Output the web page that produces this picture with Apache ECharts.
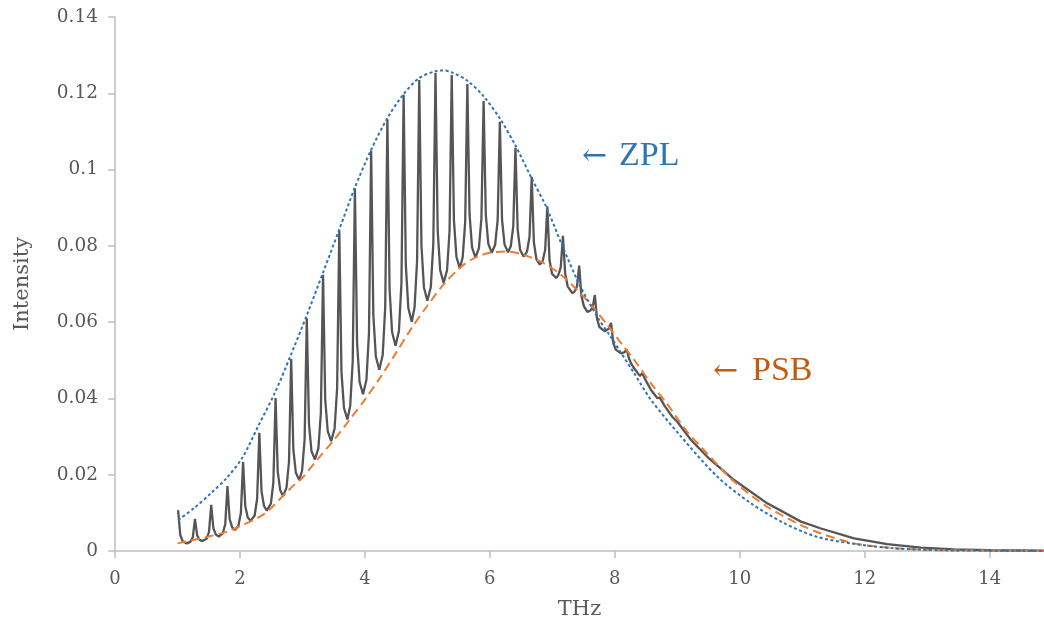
<!DOCTYPE html>
<html>
<head>
<meta charset="utf-8">
<script src="https://cdn.jsdelivr.net/npm/echarts@6/dist/echarts.min.js"></script>
<style>
html,body{margin:0;padding:0;background:#fff;}
#chart{width:1044px;height:628px;}
</style>
</head>
<body>
<div id="chart"></div>
<script>
// x ticks (THz) and y ticks (Intensity)
const xTicks = [0, 2, 4, 6, 8, 10, 12, 14];
const yTicks = [0, 0.02, 0.04, 0.06, 0.08, 0.1, 0.12, 0.14];

// Total spectrum (grey comb)
const combX = [1.01,1.045,1.085,1.15,1.205,1.245,1.28,1.315,1.355,1.40,1.465,1.505,1.54,1.575,1.615,1.66,1.725,1.765,1.80,1.835,1.875,1.92,1.975,2.015,2.05,2.085,2.125,2.17,2.235,2.275,2.31,2.345,2.385,2.43,2.495,2.535,2.57,2.605,2.645,2.69,2.745,2.785,2.82,2.855,2.895,2.95,2.995,3.035,3.07,3.105,3.145,3.20,3.255,3.295,3.33,3.365,3.405,3.46,3.515,3.555,3.59,3.625,3.665,3.72,3.765,3.805,3.84,3.875,3.915,3.97,4.025,4.065,4.10,4.135,4.175,4.23,4.285,4.325,4.36,4.395,4.435,4.49,4.545,4.585,4.62,4.655,4.695,4.75,4.795,4.835,4.87,4.905,4.945,5.00,5.055,5.095,5.13,5.165,5.205,5.26,5.315,5.355,5.39,5.425,5.465,5.52,5.565,5.605,5.64,5.675,5.715,5.77,5.825,5.865,5.90,5.935,5.975,6.03,6.085,6.125,6.16,6.195,6.235,6.29,6.335,6.375,6.41,6.445,6.485,6.54,6.595,6.635,6.67,6.705,6.745,6.80,6.845,6.885,6.92,6.955,6.995,7.06,7.095,7.135,7.17,7.205,7.245,7.32,7.355,7.395,7.43,7.465,7.505,7.56,7.605,7.645,7.68,7.715,7.755,7.84,7.905,7.94,7.975,8.015,8.10,8.155,8.19,8.225,8.26,8.31,8.40,8.44,8.48,8.58,8.68,8.72,8.80,8.92,9.00,9.22,9.48,9.91,10.44,10.98,11.30,11.83,12.36,12.90,13.43,14.00,14.87];
const combY = [0.0107,0.0042,0.0025,0.0020,0.0024,0.0036,0.0084,0.0041,0.0029,0.0026,0.0032,0.0050,0.0121,0.0059,0.0043,0.0038,0.0046,0.0071,0.0170,0.0084,0.0062,0.0055,0.0066,0.0100,0.0233,0.0118,0.0088,0.0079,0.0093,0.0137,0.0310,0.0157,0.0118,0.0106,0.0124,0.0180,0.0401,0.0208,0.0159,0.0144,0.0166,0.0234,0.0503,0.0265,0.0205,0.0186,0.0211,0.0292,0.0610,0.0333,0.0262,0.0240,0.0269,0.0361,0.0724,0.0397,0.0314,0.0288,0.0321,0.0426,0.0840,0.0469,0.0375,0.0345,0.0381,0.0497,0.0951,0.0546,0.0443,0.0411,0.0449,0.0571,0.1050,0.0619,0.0510,0.0475,0.0514,0.0639,0.1132,0.0687,0.0574,0.0538,0.0577,0.0703,0.1196,0.0750,0.0637,0.0601,0.0639,0.0760,0.1235,0.0801,0.0691,0.0656,0.0692,0.0806,0.1254,0.0841,0.0736,0.0703,0.0736,0.0839,0.1248,0.0868,0.0771,0.0741,0.0770,0.0862,0.1224,0.0883,0.0796,0.0769,0.0794,0.0872,0.1180,0.0882,0.0806,0.0782,0.0803,0.0868,0.1125,0.0869,0.0804,0.0783,0.0799,0.0852,0.1057,0.0843,0.0789,0.0772,0.0785,0.0824,0.0981,0.0809,0.0765,0.0751,0.0760,0.0789,0.0904,0.0763,0.0727,0.0716,0.0723,0.0744,0.0826,0.0729,0.0694,0.0676,0.0680,0.0694,0.0748,0.0669,0.0642,0.0627,0.0630,0.0638,0.0671,0.0609,0.0587,0.0576,0.0583,0.0598,0.0546,0.0528,0.0518,0.0521,0.0529,0.0506,0.0492,0.0479,0.0459,0.0466,0.0452,0.0422,0.0401,0.0402,0.0380,0.0352,0.0339,0.0291,0.0247,0.0186,0.0125,0.0077,0.0059,0.0033,0.0018,0.0009,0.0004,0.0002,0.0001];

// ZPL envelope (blue dotted)
const zplX = [1.01,1.27,1.54,1.79,2.04,2.30,2.56,2.81,3.07,3.33,3.59,3.84,4.10,4.36,4.62,4.87,5.13,5.25,5.39,5.64,5.90,6.16,6.41,6.66,6.90,7.16,7.43,7.72,7.94,8.31,8.58,9.06,9.64,10.18,10.71,11.24,11.78,12.47,13.2,14.0,14.87];
const zplY = [0.0081,0.0113,0.0152,0.0192,0.0245,0.0330,0.0415,0.0512,0.0618,0.0730,0.0843,0.0953,0.1052,0.1135,0.1198,0.1240,0.1258,0.1260,0.1255,0.1233,0.1192,0.1134,0.1063,0.0980,0.0903,0.0800,0.0700,0.0614,0.0560,0.0466,0.0396,0.0300,0.0195,0.0125,0.0073,0.0037,0.0020,0.0007,0.0002,0.0001,0.0];

// PSB (orange dashed)
const psbX = [1.0,1.5,1.8,2.0,2.34,2.5,2.82,3.0,3.24,3.5,3.75,4.0,4.25,4.5,4.75,5.0,5.25,5.54,5.75,6.0,6.3,6.6,6.87,7.14,7.40,7.62,7.88,8.10,8.31,8.60,8.84,9.16,9.38,9.91,10.44,10.98,11.30,11.83,12.36,13.0,14.0,14.87];
const psbY = [0.0020,0.0038,0.0051,0.0065,0.0092,0.0113,0.0166,0.0192,0.0240,0.0290,0.0343,0.0397,0.0456,0.0520,0.0585,0.0643,0.0697,0.0745,0.0768,0.0782,0.0785,0.0773,0.0754,0.0724,0.0684,0.0645,0.0593,0.0545,0.0501,0.0435,0.0385,0.0312,0.0273,0.0182,0.0116,0.0068,0.0046,0.0020,0.0009,0.0003,0.0001,0.0];

const zip = (xs, ys) => xs.map((x, i) => [x, ys[i]]);

const axisGrey = '#bfbfbf';
const textGrey = '#595959';
const tickFont = '"DejaVu Serif", serif';
const labelFont = '"Liberation Serif", serif';

const chart = echarts.init(document.getElementById('chart'), null, {renderer: 'canvas'});
chart.setOption({
  animation: false,
  backgroundColor: '#ffffff',
  grid: {left: 115, top: 17, right: 0, bottom: 77, containLabel: false},
  xAxis: {
    type: 'value', min: xTicks[0], max: 14.87, interval: 2,
    name: 'THz', nameLocation: 'middle', nameGap: 48,
    nameTextStyle: {color: textGrey, fontFamily: tickFont, fontSize: 21},
    axisLine: {lineStyle: {color: axisGrey, width: 1.5}},
    axisTick: {show: true, inside: false, length: 7, lineStyle: {color: axisGrey, width: 1.5}},
    axisLabel: {color: textGrey, fontFamily: tickFont, fontSize: 18, margin: 19, showMaxLabel: false,
      formatter: v => xTicks.indexOf(Math.round(v)) >= 0 && Math.abs(v - Math.round(v)) < 1e-6 ? String(Math.round(v)) : ''},
    splitLine: {show: false}
  },
  yAxis: {
    type: 'value', min: yTicks[0], max: yTicks[yTicks.length - 1], interval: 0.02,
    name: 'Intensity', nameLocation: 'middle', nameGap: 82, nameRotate: 90,
    nameTextStyle: {color: textGrey, fontFamily: tickFont, fontSize: 21},
    axisLine: {show: true, lineStyle: {color: axisGrey, width: 1.5}},
    axisTick: {show: true, inside: false, length: 7, lineStyle: {color: axisGrey, width: 1.5}},
    axisLabel: {color: textGrey, fontFamily: tickFont, fontSize: 18.5, margin: 17,
      formatter: v => String(parseFloat(v.toFixed(2)))},
    splitLine: {show: false}
  },
  series: [
    {
      name: 'Total', type: 'line', data: zip(combX, combY), showSymbol: false, smooth: false,
      lineStyle: {color: '#555555', width: 2.3}, z: 1
    },
    {
      name: 'PSB', type: 'line', data: zip(psbX, psbY), showSymbol: false, smooth: 0.3,
      lineStyle: {color: '#ed7d31', width: 2, type: [9, 5]}, z: 2
    },
    {
      name: 'ZPL', type: 'line', data: zip(zplX, zplY), showSymbol: false, smooth: 0.3,
      lineStyle: {color: '#2e75b6', width: 2, type: [3, 2.5]}, z: 3
    }
  ],
  graphic: [
    {type: 'text', x: 582, y: 157, style: {text: '\u2190', font: '30px "DejaVu Serif", serif', fill: '#2e75b6', verticalAlign: 'middle'}},
    {type: 'text', x: 619, y: 156, style: {text: 'ZPL', font: '34px ' + labelFont, fill: '#2e75b6', verticalAlign: 'middle'}},
    {type: 'text', x: 713, y: 372, style: {text: '\u2190', font: '30px "DejaVu Serif", serif', fill: '#c55a11', verticalAlign: 'middle'}},
    {type: 'text', x: 752, y: 371, style: {text: 'PSB', font: '34px ' + labelFont, fill: '#c55a11', verticalAlign: 'middle'}}
  ]
});
</script>
</body>
</html>
